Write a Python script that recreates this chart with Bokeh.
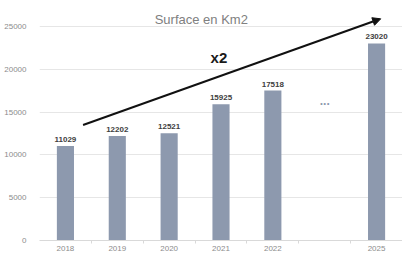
from bokeh.plotting import figure
from bokeh.models import (ColumnDataSource, FactorRange, Range1d, LinearAxis,
                          FixedTicker, LabelSet, Label, Arrow, NormalHead)
from bokeh.core.properties import value
from bokeh.embed import file_html
from bokeh.resources import INLINE

# ---- data ----
categories = ["2018", "2019", "2020", "2021", "2022", " ", "2025"]
bar_years = ["2018", "2019", "2020", "2021", "2022", "2025"]
surface_km2 = [11029, 12202, 12521, 15925, 17518, 23020]
y_ticks = [0, 5000, 10000, 15000, 20000, 25000]
title_text = "Surface en Km2"
growth_text = "x2"
gap_text = "..."
gap_level = 16400
# positions in the category axis' own units (one unit per category)
arrow_from = (0.84, 13500)
arrow_to = (6.58, 25900)
growth_pos = (3.46, 21400)
title_pos = (3.12, 25820)
y_view_end = 28040

FONT = "Liberation Sans"
BAR = "#8d99ae"

src = ColumnDataSource(dict(year=bar_years, surface=surface_km2,
                            label=[str(v) for v in surface_km2]))

p = figure(width=402, height=253, x_range=FactorRange(*categories),
           y_range=Range1d(0, y_view_end),
           output_backend="svg", toolbar_location=None, x_axis_location=None,
           y_axis_location="left", min_border_left=39, min_border_right=0,
           min_border_top=0, min_border_bottom=0)
p.outline_line_color = None
p.background_fill_color = "white"

# x axis: labels at category centres, small ticks at category boundaries
centres = [i + 0.5 for i, c in enumerate(categories) if c.strip()]
bounds = list(range(1, len(categories)))
x_axis = LinearAxis(ticker=FixedTicker(ticks=centres, minor_ticks=bounds),
                    major_label_overrides={i + 0.5: c for i, c in enumerate(categories) if c.strip()},
                    axis_line_color="#d9d9d9", major_tick_line_color=None,
                    major_tick_in=0, major_tick_out=3,
                    minor_tick_line_color="#d9d9d9", minor_tick_in=0, minor_tick_out=3,
                    major_label_standoff=2, major_label_text_font_size="8px",
                    major_label_text_color="#8c8c8c", major_label_text_font=FONT)
p.add_layout(x_axis, "below")

# y axis
p.yaxis.ticker = FixedTicker(ticks=y_ticks)
p.yaxis.axis_line_color = None
p.yaxis.major_tick_line_color = None
p.yaxis.minor_tick_line_color = None
p.yaxis.major_label_standoff = 7
p.yaxis.major_label_text_font_size = "8px"
p.yaxis.major_label_text_color = "#8c8c8c"
p.yaxis.major_label_text_font = FONT

p.ygrid.ticker = FixedTicker(ticks=y_ticks)
p.ygrid.grid_line_color = "#e6e6e6"
p.xgrid.visible = False

p.vbar(x="year", top="surface", width=0.33, source=src, fill_color=BAR, line_color=None)

p.add_layout(LabelSet(x="year", y="surface", text="label", source=src, text_align="center",
                      text_baseline="bottom", y_offset=4, text_font_size="8px",
                      text_font_style="bold", text_color="#404040", text_font=value(FONT)))

p.text(x=[categories[5]], y=[gap_level], text=[gap_text], text_align="center",
       text_baseline="middle", text_font=value(FONT), text_font_size="12px",
       text_color=BAR, text_font_style="bold")

p.add_layout(Arrow(end=NormalHead(size=8, fill_color="#111111", line_color="#111111"),
                   x_start=arrow_from[0], y_start=arrow_from[1],
                   x_end=arrow_to[0], y_end=arrow_to[1],
                   line_width=2, line_color="#111111"))

p.add_layout(Label(x=growth_pos[0], y=growth_pos[1], text=growth_text,
                   text_align="center", text_baseline="middle", text_font_size="15px",
                   text_font_style="bold", text_color="#1a1a1a", text_font=FONT))

p.add_layout(Label(x=title_pos[0], y=title_pos[1], text=title_text,
                   text_align="center", text_baseline="middle", text_font_size="13px",
                   text_color="#808080", text_font=FONT))

open("out.html", "w").write(file_html(p, INLINE))
